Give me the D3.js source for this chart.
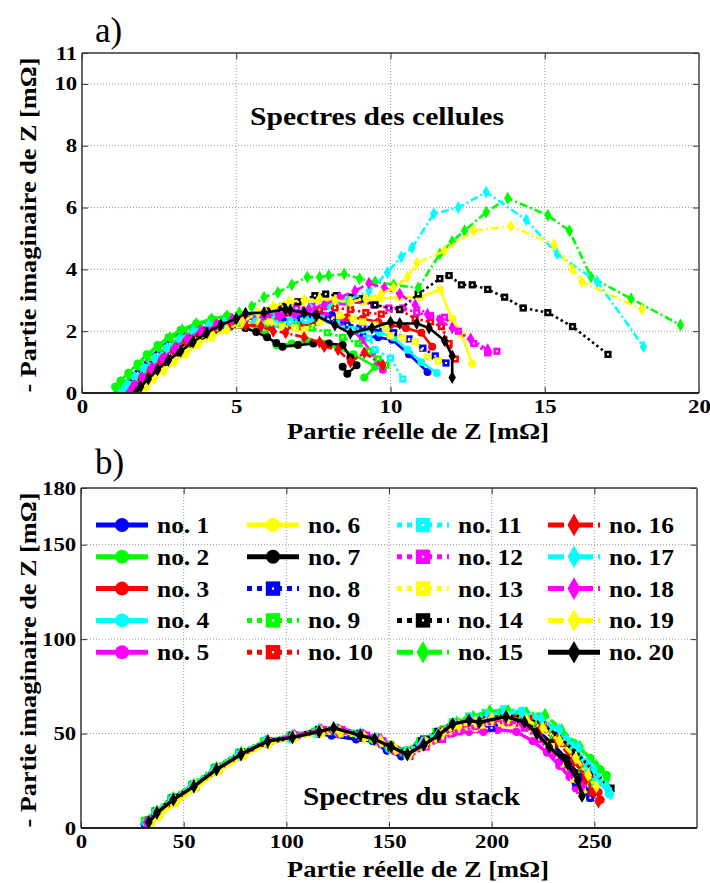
<!DOCTYPE html>
<html><head><meta charset="utf-8">
<script src="https://cdn.jsdelivr.net/npm/d3@7"></script>
<style>
body{margin:0;background:#fff}
svg{display:block}
</style>
</head><body>
<svg id="chart" width="710" height="883"></svg>
<script>
// ---------- DATA ----------
const seriesNames = ["no. 1","no. 2","no. 3","no. 4","no. 5","no. 6","no. 7","no. 8","no. 9","no. 10",
  "no. 11","no. 12","no. 13","no. 14","no. 15","no. 16","no. 17","no. 18","no. 19","no. 20"];

// Panel a) cell spectra [Re Z, -Im Z] in mOhm
const cell1 = [[1.15,0.05],[1.35,0.3],[1.6,0.55],[1.9,0.85],[2.2,1.15],[2.55,1.45],[2.9,1.75],[3.3,2.0],[3.8,2.2],[4.3,2.35],[4.8,2.45],[5.3,2.5],[5.9,2.45],[6.5,2.35],[7.1,2.4],[7.5,2.65],[8.1,2.52],[8.6,2.2],[9.1,1.85],[9.6,1.8],[10.05,1.72],[10.6,1.25],[11.2,0.68]];
const cell2 = [[1.07,0.2],[1.25,0.4],[1.5,0.65],[1.8,0.95],[2.1,1.25],[2.45,1.55],[2.8,1.8],[3.2,2.05],[3.7,2.25],[4.2,2.4],[4.7,2.5],[5.2,2.45],[5.6,2.2],[5.95,1.9],[6.3,1.55],[6.8,1.6],[7.3,1.7],[7.8,1.6],[8.3,1.45],[8.8,1.25],[9.5,0.85],[9.15,0.5]];
const cell3 = [[1.35,0],[1.5,0.2],[1.75,0.45],[2.05,0.75],[2.4,1.05],[2.8,1.4],[3.2,1.7],[3.6,1.95],[4.1,2.15],[4.6,2.3],[5.1,2.35],[5.6,2.3],[6.1,2.2],[6.6,2.1],[7.1,2.15],[7.6,2.3],[8.1,2.4],[8.6,2.45],[9.1,2.4],[9.6,2.3],[10.0,2.2],[10.5,2.1],[11.0,1.95],[11.35,1.5]];
const cell4 = [[1.3,0],[1.45,0.2],[1.7,0.45],[2.0,0.8],[2.35,1.1],[2.75,1.45],[3.15,1.75],[3.6,2.0],[4.1,2.2],[4.6,2.35],[5.1,2.4],[5.6,2.45],[6.2,2.4],[6.8,2.35],[7.4,2.4],[8.0,2.35],[8.6,2.2],[9.1,2.05],[9.65,1.95],[10.1,1.8],[10.55,1.4],[11.0,1.0],[11.5,0.65]];
const cell5 = [[1.55,0],[1.7,0.2],[1.95,0.5],[2.25,0.8],[2.6,1.15],[3.0,1.5],[3.45,1.85],[3.9,2.1],[4.4,2.3],[4.9,2.4],[5.4,2.45],[5.9,2.5],[6.4,2.45],[6.9,2.55],[7.4,2.6],[7.9,2.5],[8.4,2.3],[8.8,2.0],[9.1,1.7],[9.4,1.3],[9.6,1.0],[9.75,0.75]];
const cell6 = [[1.9,0],[2.05,0.2],[2.3,0.45],[2.6,0.75],[2.95,1.0],[3.3,1.25],[3.7,1.55],[4.1,1.8],[4.6,2.05],[5.1,2.25],[5.6,2.5],[6.1,2.7],[6.6,2.85],[7.1,2.95],[7.6,3.0],[8.1,2.95],[8.6,2.9],[9.1,2.95],[9.65,3.05],[10.3,3.1],[10.95,3.1],[11.6,3.35],[12.0,2.4],[12.3,1.9],[12.65,0.95]];
const cell7 = [[1.65,0],[1.8,0.15],[2.05,0.4],[2.35,0.7],[2.7,1.0],[3.1,1.3],[3.5,1.6],[3.9,1.85],[4.35,2.05],[4.8,2.15],[5.3,2.1],[5.65,1.97],[6.0,1.8],[6.3,1.62],[6.5,1.5],[7.0,1.55],[7.5,1.6],[8.0,1.6],[8.45,1.55],[8.7,1.15],[8.9,0.9],[8.6,0.62],[8.45,0.85]];
const cell8 = [[1.25,0],[1.4,0.2],[1.65,0.5],[1.95,0.8],[2.3,1.1],[2.7,1.45],[3.1,1.75],[3.55,2.0],[4.05,2.2],[4.55,2.35],[5.05,2.4],[5.6,2.35],[6.1,2.3],[6.6,2.3],[7.1,2.4],[7.6,2.5],[8.1,2.4],[8.6,2.2],[9.1,2.15],[9.6,2.1],[10.1,1.95],[10.6,1.75],[11.05,1.45],[11.45,1.2],[11.8,0.97]];
const cell9 = [[1.2,0.1],[1.35,0.3],[1.6,0.55],[1.9,0.85],[2.25,1.15],[2.6,1.45],[3.0,1.75],[3.45,2.0],[3.95,2.2],[4.45,2.35],[4.95,2.4],[5.45,2.35],[5.95,2.25],[6.45,2.2],[6.95,2.2],[7.45,2.1],[7.95,1.95],[8.45,1.8],[8.95,1.6],[9.3,1.35],[9.6,1.1],[9.85,0.9]];
const cell10 = [[1.4,0],[1.55,0.2],[1.8,0.45],[2.1,0.75],[2.45,1.05],[2.85,1.4],[3.25,1.7],[3.7,1.95],[4.2,2.15],[4.7,2.3],[5.2,2.4],[5.7,2.45],[6.2,2.5],[6.7,2.6],[7.2,2.65],[7.7,2.7],[8.2,2.75],[8.7,2.7],[9.2,2.6],[9.7,2.55],[10.3,2.7],[10.8,2.4],[11.3,2.3],[11.65,2.15],[11.9,1.6],[12.1,1.1]];
const cell11 = [[1.45,0],[1.6,0.2],[1.85,0.45],[2.15,0.75],[2.5,1.05],[2.9,1.4],[3.3,1.7],[3.75,1.95],[4.25,2.15],[4.75,2.25],[5.25,2.3],[5.75,2.3],[6.25,2.25],[6.75,2.3],[7.25,2.35],[7.75,2.4],[8.25,2.25],[8.75,2.05],[9.3,1.77],[9.5,1.4],[10.0,1.13],[10.4,0.45]];
const cell12 = [[1.6,0],[1.75,0.2],[2.0,0.5],[2.3,0.8],[2.65,1.1],[3.05,1.45],[3.5,1.8],[3.95,2.05],[4.45,2.25],[4.95,2.4],[5.45,2.5],[5.95,2.55],[6.45,2.65],[6.95,2.75],[7.45,2.8],[7.95,2.85],[8.45,2.95],[8.95,3.0],[9.45,2.85],[9.95,2.75],[10.4,2.75],[10.85,2.6],[11.3,2.5],[11.75,2.45],[12.2,2.0],[12.7,1.6],[13.15,1.3],[13.45,1.35]];
const cell13 = [[1.85,0.05],[2.0,0.25],[2.25,0.5],[2.55,0.8],[2.9,1.1],[3.3,1.4],[3.7,1.7],[4.15,1.95],[4.6,2.1],[5.1,2.2],[5.75,2.3],[6.1,2.3],[6.5,2.16],[6.9,2.1],[7.2,2.03],[7.7,2.3],[8.35,2.5],[8.8,2.4],[9.1,2.3],[9.5,2.2],[9.85,2.1],[10.0,1.85],[10.4,1.78],[10.8,1.65],[11.2,1.17],[11.55,1.04]];
const cell14 = [[1.7,0.05],[1.85,0.25],[2.1,0.5],[2.4,0.8],[2.75,1.1],[3.15,1.45],[3.55,1.75],[4.0,2.0],[4.5,2.2],[5.0,2.35],[5.5,2.5],[6.0,2.65],[6.5,2.8],[7.0,2.95],[7.55,3.15],[7.9,3.2],[8.25,3.15],[8.7,3.1],[9.0,3.05],[9.5,2.85],[10.3,2.7],[10.9,3.2],[11.6,3.7],[11.9,3.8],[12.3,3.5],[12.65,3.5],[13.15,3.35],[13.7,3.1],[14.3,2.75],[15.1,2.6],[15.9,2.15],[17.05,1.25]];
const cell15 = [[1.1,0.15],[1.25,0.35],[1.5,0.6],[1.8,0.9],[2.1,1.2],[2.45,1.5],[2.85,1.8],[3.25,2.05],[3.7,2.25],[4.2,2.4],[4.7,2.5],[5.1,2.6],[5.5,2.8],[5.9,3.1],[6.35,3.25],[6.8,3.5],[7.3,3.75],[7.7,3.75],[8.0,3.8],[8.5,3.85],[9.0,3.7],[9.5,3.6],[10.1,3.5],[10.9,3.4],[11.6,4.5],[12.0,4.9],[12.4,5.25],[13.1,5.85],[13.8,6.3],[15.1,5.75],[15.8,5.25],[16.5,3.75],[17.8,3.05],[19.4,2.2]];
const cell16 = [[1.5,0],[1.65,0.2],[1.9,0.45],[2.2,0.75],[2.55,1.05],[2.95,1.4],[3.35,1.7],[3.8,1.95],[4.3,2.1],[4.8,2.2],[5.3,2.2],[5.8,2.15],[6.2,2.0],[6.6,1.95],[7.2,1.8],[7.7,1.65],[7.85,1.5],[8.3,1.4],[8.7,1.0],[9.15,1.3],[9.75,0.9]];
const cell17 = [[1.3,0.05],[1.45,0.25],[1.7,0.5],[2.0,0.8],[2.35,1.1],[2.75,1.45],[3.15,1.75],[3.6,2.0],[4.1,2.2],[4.6,2.3],[5.1,2.35],[5.6,2.45],[6.2,2.55],[6.8,2.65],[7.4,2.75],[8.0,2.85],[8.6,3.0],[9.3,3.3],[9.9,3.9],[10.35,4.4],[10.7,4.7],[11.4,5.8],[12.2,6.0],[13.1,6.5],[14.4,5.6],[15.4,4.5],[16.7,3.6],[18.2,1.5]];
const cell18 = [[1.55,0.05],[1.7,0.25],[1.95,0.5],[2.25,0.8],[2.6,1.1],[3.0,1.45],[3.4,1.75],[3.85,2.0],[4.35,2.2],[4.85,2.35],[5.35,2.45],[5.85,2.5],[6.35,2.55],[6.85,2.6],[7.35,2.7],[7.85,2.85],[8.35,3.1],[8.85,3.3],[9.3,3.55],[9.8,3.4],[10.3,3.2],[10.8,2.85],[11.2,2.55],[11.6,2.35],[12.0,2.1],[12.6,1.75],[13.15,1.4]];
const cell19 = [[1.95,0],[2.1,0.2],[2.35,0.45],[2.65,0.7],[3.0,1.0],[3.4,1.3],[3.8,1.6],[4.25,1.85],[4.7,2.05],[5.2,2.3],[5.7,2.6],[6.2,2.8],[6.7,2.95],[7.2,3.0],[7.7,3.05],[8.2,3.0],[8.7,2.95],[9.2,3.05],[9.7,3.2],[10.1,3.4],[10.55,3.75],[10.85,4.2],[11.75,4.6],[12.7,5.25],[13.9,5.4],[15.3,4.8],[15.9,4.0],[16.2,3.6],[18.15,2.7]];
const cell20 = [[1.75,0],[1.9,0.2],[2.15,0.45],[2.45,0.75],[2.8,1.05],[3.2,1.35],[3.6,1.65],[4.05,1.95],[4.5,2.2],[5.0,2.4],[5.3,2.58],[5.9,2.6],[6.6,2.7],[6.75,2.68],[7.2,2.6],[7.6,2.5],[8.2,2.2],[8.7,1.93],[9.4,2.1],[10.0,2.3],[10.3,2.25],[10.85,2.25],[11.25,2.1],[11.75,1.7],[12.0,1.2],[12.0,0.5]];
const cellSpectra = [cell1,cell2,cell3,cell4,cell5,cell6,cell7,cell8,cell9,cell10,cell11,cell12,cell13,cell14,cell15,cell16,cell17,cell18,cell19,cell20];

// Panel b) stack spectra
const stack1 = [[31,2],[36,7],[44,14],[54,21],[65,30],[77,38],[90,45],[102,48],[115,50],[122,49],[134,47],[142,46],[149,41],[156,38],[164,44],[172,48],[179,53],[188,56],[196,58],[205,59],[214,57],[221,52],[229,45],[237,36],[243,27],[247,19],[248,16]];
const stack2 = [[32,4],[37,9],[45,16],[55,23],[66,32],[78,40],[90,46],[103,49],[115,52],[124,51],[136,50],[144,48],[151,44],[158,41],[166,46],[174,51],[182,56],[190,58],[198,60],[207,61],[215,60],[223,57],[231,53],[240,45],[248,37],[253,31],[256,28]];
const stack3 = [[33,3],[37,8],[45,15],[56,23],[67,32],[79,40],[92,46],[104,49],[117,52],[126,52],[137,49],[145,47],[153,42],[160,40],[168,46],[176,52],[183,56],[191,58],[199,61],[208,60],[217,58],[225,55],[233,48],[241,38],[248,27],[252,19],[253,15]];
const stack4 = [[31,3],[36,8],[44,15],[54,22],[65,31],[77,39],[89,45],[102,47],[114,50],[123,51],[135,49],[143,46],[150,42],[157,40],[165,45],[173,50],[181,55],[189,57],[197,59],[205,62],[214,61],[222,58],[230,52],[239,44],[247,33],[253,24],[257,18]];
const stack5 = [[32,2],[36,7],[44,14],[54,21],[65,30],[77,38],[90,45],[102,49],[115,51],[125,53],[137,50],[145,48],[152,43],[158,40],[166,43],[173,47],[181,50],[189,51],[196,51],[203,52],[212,51],[220,46],[227,40],[233,33],[238,27],[241,21]];
const stack6 = [[34,2],[38,6],[46,13],[56,21],[67,30],[79,38],[92,45],[104,48],[117,50],[126,51],[138,48],[146,45],[153,41],[160,39],[168,43],[176,48],[184,52],[192,53],[200,54],[208,55],[217,53],[224,48],[231,41],[237,33],[242,24],[245,18]];
const stack7 = [[33,2],[37,7],[45,14],[55,22],[66,31],[78,39],[91,45],[103,48],[116,51],[124,51],[136,48],[144,46],[151,42],[158,39],[166,44],[174,49],[182,53],[190,56],[198,58],[206,59],[214,57],[222,52],[229,45],[236,37],[241,29],[244,22]];
const stack8 = [[32,3],[36,8],[44,15],[54,22],[65,31],[77,39],[90,46],[103,48],[116,51],[124,50],[136,48],[144,46],[152,42],[158,39],[167,47],[175,51],[183,55],[191,57],[200,53],[208,58],[216,56],[223,50],[230,43],[237,33],[241,24],[248,16]];
const stack9 = [[31,4],[36,9],[44,16],[54,23],[65,32],[77,40],[89,46],[102,49],[114,51],[122,52],[134,50],[142,47],[150,43],[157,40],[165,46],[173,51],[181,56],[189,59],[197,61],[205,61],[214,59],[222,55],[230,49],[238,41],[244,31],[249,24]];
const stack10 = [[33,2],[37,7],[45,14],[55,22],[66,31],[78,39],[91,46],[104,49],[117,52],[127,51],[138,49],[146,46],[153,41],[160,38],[168,45],[176,50],[184,54],[192,58],[201,60],[209,60],[218,58],[226,53],[234,45],[241,35],[246,26],[249,19]];
const stack11 = [[32,3],[37,8],[45,16],[55,23],[66,32],[78,40],[90,46],[103,49],[116,51],[125,52],[136,50],[144,47],[151,43],[158,40],[166,46],[174,51],[182,56],[190,59],[198,61],[206,63],[215,62],[223,59],[231,52],[240,42],[247,31],[251,24]];
const stack12 = [[33,3],[38,8],[46,15],[56,22],[67,31],[79,39],[92,46],[105,49],[118,52],[127,52],[139,49],[147,46],[154,41],[160,38],[168,43],[176,47],[184,51],[192,54],[200,56],[208,56],[216,53],[223,47],[229,40],[235,33],[240,26],[243,20]];
const stack13 = [[34,3],[38,8],[46,15],[56,22],[67,31],[79,39],[91,45],[104,48],[117,50],[126,50],[137,48],[145,45],[152,41],[159,38],[167,44],[175,49],[183,53],[191,55],[199,56],[207,57],[215,55],[222,50],[229,43],[235,34],[240,26],[244,21]];
const stack14 = [[33,4],[37,9],[45,16],[55,23],[66,32],[78,40],[91,46],[103,49],[116,52],[124,52],[136,50],[144,47],[151,43],[158,40],[166,46],[174,51],[182,55],[190,57],[198,59],[207,60],[216,58],[224,55],[232,49],[241,40],[250,30],[258,21]];
const stack15 = [[32,3],[37,9],[45,16],[55,23],[66,32],[78,40],[90,46],[103,49],[116,52],[125,52],[137,49],[145,47],[152,43],[159,40],[167,46],[175,51],[183,56],[191,59],[199,62],[208,62],[217,61],[226,60],[234,52],[243,43],[251,33],[256,26]];
const stack16 = [[33,3],[37,8],[45,15],[55,22],[66,31],[78,39],[91,45],[103,48],[116,51],[125,51],[137,49],[145,46],[152,42],[159,39],[167,45],[175,50],[183,54],[191,56],[199,58],[207,58],[216,57],[224,53],[232,46],[240,36],[246,26],[250,19],[252,14]];
const stack17 = [[32,3],[36,8],[44,15],[54,22],[65,31],[77,39],[90,46],[103,49],[116,52],[124,52],[136,50],[144,47],[151,43],[158,40],[166,45],[174,50],[182,55],[190,58],[198,60],[206,61],[215,61],[224,58],[233,52],[242,43],[250,31],[256,22],[258,18]];
const stack18 = [[32,3],[37,8],[45,15],[55,22],[66,31],[78,39],[91,46],[104,49],[117,52],[125,51],[137,49],[145,46],[152,42],[159,39],[167,45],[175,49],[183,53],[191,55],[199,57],[207,57],[215,55],[222,50],[228,42],[233,35],[239,29],[244,22]];
const stack19 = [[34,2],[38,7],[46,14],[56,22],[67,31],[79,39],[92,45],[104,48],[117,51],[126,51],[138,48],[146,46],[153,42],[160,39],[168,45],[176,50],[184,54],[192,56],[200,58],[208,58],[217,57],[225,53],[233,46],[241,37],[247,28],[251,22]];
const stack20 = [[33,3],[37,8],[45,15],[55,22],[66,31],[78,39],[91,46],[103,48],[116,51],[123,53],[136,49],[143,47],[151,43],[159,39],[167,44],[174,49],[181,55],[189,57],[194,56],[207,59],[216,56],[222,50],[228,43],[237,34],[242,25],[244,17]];
const stackSpectra = [stack1,stack2,stack3,stack4,stack5,stack6,stack7,stack8,stack9,stack10,stack11,stack12,stack13,stack14,stack15,stack16,stack17,stack18,stack19,stack20];

const xTicksA = [0,5,10,15,20];
const yTicksA = [0,2,4,6,8,10,11];
const xTicksB = [0,50,100,150,200,250];
const yTicksB = [0,50,100,150,180];

// ---------- STYLES ----------
const palette = ["#0000ff","#00ff00","#ff0000","#00ffff","#ff00ff","#ffff00","#000000"];
const colorOf = i => i < 14 ? palette[i % 7] : ["#00ff00","#ff0000","#00ffff","#ff00ff","#ffff00","#000000"][i-14];
const dashOf = i => i < 7 ? null : (i < 14 ? "2.5,3" : (i < 19 ? "8,3,2,3" : null));
const markerOf = i => i < 7 ? "circle" : (i < 14 ? "square" : "diamond");

const svg = d3.select("#chart");
const FONT = "Liberation Serif, Tinos, Times New Roman, DejaVu Serif, serif";

function drawMarker(g, type, cx, cy, color, s, hole) {
  if (type === "circle") {
    g.append("circle").attr("cx",cx).attr("cy",cy).attr("r",s*0.5).attr("fill",color);
  } else if (type === "square") {
    const w = s*0.9, h = hole || Math.max(2, s*0.22);
    g.append("rect").attr("x",cx-w/2).attr("y",cy-w/2).attr("width",w).attr("height",w).attr("fill",color);
    g.append("rect").attr("x",cx-h/2).attr("y",cy-h/2).attr("width",h).attr("height",h).attr("fill","#fff");
  } else {
    g.append("path").attr("transform",`translate(${cx},${cy})`)
      .attr("d", d3.symbol(d3.symbolDiamond, s*s*0.75)()).attr("fill",color);
  }
}

function txt(sel, size, bold) {
  return sel.style("font-family", FONT).style("font-size", size + "px")
    .style("font-weight", bold ? "bold" : "normal").attr("fill","#000");
}
function fitted(sel, len) {
  return sel.attr("textLength", len).attr("lengthAdjust", "spacingAndGlyphs");
}

function panel(opts) {
  const {left, top, right, bottom, xDomain, yDomain, xTicks, yTicks, data, lw, ms, clipId} = opts;
  const x = d3.scaleLinear().domain(xDomain).range([left, right]);
  const y = d3.scaleLinear().domain(yDomain).range([bottom, top]);
  const g = svg.append("g");
  const grid = g.append("g").attr("stroke","#9a9a9a").attr("stroke-width",1).attr("stroke-dasharray","1,2");
  xTicks.filter(t => t > xDomain[0] && t < xDomain[1]).forEach(t =>
    grid.append("line").attr("x1",x(t)).attr("x2",x(t)).attr("y1",top).attr("y2",bottom));
  yTicks.filter(t => t > yDomain[0] && t < yDomain[1]).forEach(t =>
    grid.append("line").attr("y1",y(t)).attr("y2",y(t)).attr("x1",left).attr("x2",right));
  svg.append("clipPath").attr("id",clipId).append("rect")
    .attr("x",left).attr("y",top).attr("width",right-left).attr("height",bottom-top);
  const plot = g.append("g").attr("clip-path",`url(#${clipId})`);
  const line = d3.line().x(d => x(d[0])).y(d => y(d[1]));
  data.forEach((pts, i) => {
    const sg = plot.append("g");
    sg.append("path").attr("d", line(pts)).attr("fill","none").attr("stroke",colorOf(i))
      .attr("stroke-width",lw).attr("stroke-dasharray",dashOf(i)).attr("stroke-linejoin","round");
    pts.forEach(p => drawMarker(sg, markerOf(i), x(p[0]), y(p[1]), colorOf(i), ms));
  });
  const fmt = d3.format("d");
  const ax = g.append("g").attr("transform",`translate(0,${bottom})`)
    .call(d3.axisBottom(x).tickValues(xTicks).tickFormat(fmt).tickSizeInner(-6).tickSizeOuter(0).tickPadding(7));
  const ay = g.append("g").attr("transform",`translate(${left},0)`)
    .call(d3.axisLeft(y).tickValues(yTicks).tickFormat(fmt).tickSizeInner(-6).tickSizeOuter(0).tickPadding(4));
  const at = g.append("g").attr("transform",`translate(0,${top})`)
    .call(d3.axisTop(x).tickValues(xTicks).tickFormat("").tickSizeInner(-6).tickSizeOuter(0));
  const ar = g.append("g").attr("transform",`translate(${right},0)`)
    .call(d3.axisRight(y).tickValues(yTicks).tickFormat("").tickSizeInner(-6).tickSizeOuter(0));
  [ax,ay,at,ar].forEach(a => {
    a.selectAll(".domain").remove();
    a.selectAll(".tick line").attr("stroke","#333");
    txt(a.selectAll("text"), 19, true).attr("transform","scale(1.2,1)");
  });
  g.append("line").attr("x1",left).attr("x2",right).attr("y1",top).attr("y2",top).attr("stroke","#333").attr("stroke-width",1.5);
  g.append("line").attr("x1",right).attr("x2",right).attr("y1",top).attr("y2",bottom).attr("stroke","#666").attr("stroke-width",1.8);
  g.append("line").attr("x1",left).attr("x2",left).attr("y1",top).attr("y2",bottom).attr("stroke","#333").attr("stroke-width",1.5);
  g.append("line").attr("x1",left).attr("x2",right).attr("y1",bottom).attr("y2",bottom).attr("stroke","#222").attr("stroke-width",1.8);
  return {x, y};
}

// ---------- PANEL A ----------
const A = {left:82, top:53, right:699, bottom:393};
panel({...A, xDomain:[0,20], yDomain:[0,11], xTicks:xTicksA, yTicks:yTicksA, data:cellSpectra, lw:2.6, ms:8, clipId:"clipA"});
txt(svg.append("text").attr("x",95).attr("y",42), 35, false).text("a)");
fitted(txt(svg.append("text").attr("x",250).attr("y",125), 26, true), 254).text("Spectres des cellules");
fitted(txt(svg.append("text").attr("x",287).attr("y",439), 23, true), 262).text("Partie réelle de Z [mΩ]");
fitted(txt(svg.append("text").attr("transform",`translate(36,${(A.top+A.bottom)/2 + 2}) rotate(-90)`).attr("text-anchor","middle"), 23, true), 335).text("- Partie imaginaire de Z [mΩ]");

// ---------- PANEL B ----------
const B = {left:81, top:488, right:697, bottom:828};
panel({...B, xDomain:[0,300], yDomain:[0,180], xTicks:xTicksB, yTicks:yTicksB, data:stackSpectra, lw:3.4, ms:8.5, clipId:"clipB"});
txt(svg.append("text").attr("x",95).attr("y",474), 35, false).text("b)");
fitted(txt(svg.append("text").attr("x",303).attr("y",805), 26, true), 217).text("Spectres du stack");
fitted(txt(svg.append("text").attr("x",287).attr("y",877), 23, true), 262).text("Partie réelle de Z [mΩ]");
fitted(txt(svg.append("text").attr("transform",`translate(36,${(B.top+B.bottom)/2 + 2}) rotate(-90)`).attr("text-anchor","middle"), 23, true), 335).text("- Partie imaginaire de Z [mΩ]");

// legend
const legCols = [96, 247, 397, 548];
const legRow0 = 525, legDy = 31.8, legLen = 52;
const leg = svg.append("g");
seriesNames.forEach((name, i) => {
  const c = Math.floor(i/5), r = i % 5;
  const lx = legCols[c], ly = legRow0 + r*legDy;
  const e = leg.append("g");
  const ld = dashOf(i) ? (i < 14 ? "5,5" : "16,5,3,5") : null;
  e.append("line").attr("x1",lx).attr("x2",lx+legLen).attr("y1",ly).attr("y2",ly)
    .attr("stroke",colorOf(i)).attr("stroke-width",5).attr("stroke-dasharray",ld);
  drawMarker(e, markerOf(i), lx+legLen/2, ly, colorOf(i), markerOf(i)==="square" ? 16 : 14, 2.2);
  txt(e.append("text").attr("x",lx+61).attr("y",ly+8), 24, true).attr("transform",`translate(${(lx+61)*-0.06},0) scale(1.06,1)`).text(name);
});
</script>
</body></html>
